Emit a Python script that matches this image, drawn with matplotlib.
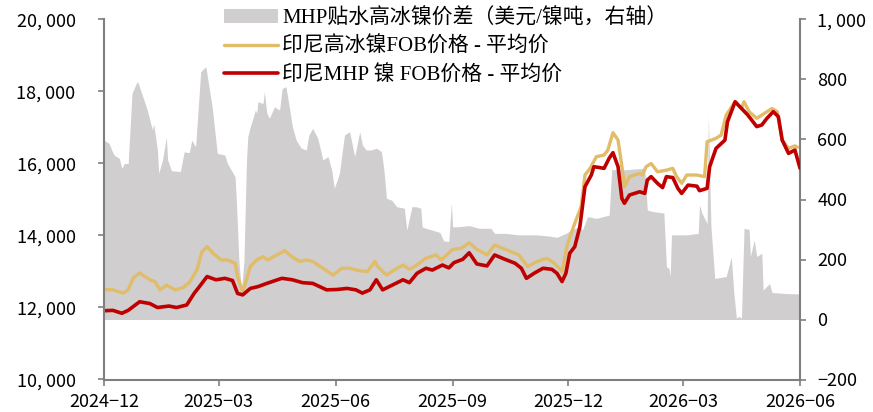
import pandas as pd
import matplotlib
matplotlib.use("Agg")
from matplotlib import pyplot as plt
import matplotlib.dates as mdates
from matplotlib.ticker import FuncFormatter, MultipleLocator
from matplotlib.font_manager import FontProperties

# 高冰镍FOB价格 - 平均价（左轴）
hin_dates = ["2024-12-01", "2024-12-08", "2024-12-16", "2024-12-20", "2024-12-24", "2024-12-29",
             "2025-01-06", "2025-01-10", "2025-01-14", "2025-01-19", "2025-01-26", "2025-02-01",
             "2025-02-06", "2025-02-12", "2025-02-16", "2025-02-20", "2025-02-25", "2025-03-03",
             "2025-03-08", "2025-03-14", "2025-03-16", "2025-03-20", "2025-03-23", "2025-03-26",
             "2025-03-31", "2025-04-05", "2025-04-09", "2025-04-13", "2025-04-18", "2025-04-22",
             "2025-04-28", "2025-05-04", "2025-05-09", "2025-05-14", "2025-05-22", "2025-05-30",
             "2025-06-06", "2025-06-12", "2025-06-20", "2025-06-26", "2025-07-02", "2025-07-04",
             "2025-07-11", "2025-07-17", "2025-07-24", "2025-07-29", "2025-08-04", "2025-08-11",
             "2025-08-19", "2025-08-23", "2025-08-29", "2025-09-01", "2025-09-08", "2025-09-14",
             "2025-09-20", "2025-09-28", "2025-10-04", "2025-10-10", "2025-10-17", "2025-10-23",
             "2025-10-30", "2025-11-06", "2025-11-14", "2025-11-20", "2025-11-26", "2025-11-30",
             "2025-12-06", "2025-12-11", "2025-12-14", "2025-12-18", "2025-12-23", "2025-12-29",
             "2026-01-01", "2026-01-05", "2026-01-09", "2026-01-13", "2026-01-14", "2026-01-18",
             "2026-01-26", "2026-01-28", "2026-01-31", "2026-02-04", "2026-02-09", "2026-02-16",
             "2026-02-21", "2026-02-24", "2026-02-28", "2026-03-04", "2026-03-12", "2026-03-18",
             "2026-03-20", "2026-03-27", "2026-03-31", "2026-04-04", "2026-04-11", "2026-04-16",
             "2026-04-18", "2026-04-22", "2026-04-28", "2026-05-02", "2026-05-10", "2026-05-14",
             "2026-05-18", "2026-05-23", "2026-05-28", "2026-05-30"]
hin_price = [12500, 12490, 12400, 12490, 12820, 12960,
             12770, 12720, 12490, 12620, 12490, 12550,
             12690, 13040, 13550, 13690, 13500, 13320,
             13320, 13230, 12860, 12440, 12770, 13140,
             13320, 13410, 13320, 13410, 13500, 13580,
             13400, 13280, 13320, 13280, 13090, 12900,
             13090, 13090, 13020, 13000, 13280, 13140,
             12900, 13040, 13180, 13060, 13180, 13370,
             13460, 13320, 13520, 13615, 13645, 13800,
             13615, 13460, 13735, 13645, 13550, 13460,
             13135, 13275, 13365, 13230, 13000, 13735,
             14340, 14800, 15680, 15865, 16190, 16235,
             16375, 16855, 16650, 15680, 15355, 15635,
             15725, 15680, 15910, 16000, 15770, 15815,
             15865, 15635, 15450, 15680, 15680, 15635,
             16605, 16700, 16790, 17345, 17715, 17530,
             17715, 17440, 17255, 17345, 17530, 17440,
             16650, 16420, 16490, 16450]

# MHP镍FOB价格 - 平均价（左轴）
mhp_dates = ["2024-12-01", "2024-12-08", "2024-12-15", "2024-12-20", "2024-12-29", "2025-01-06",
             "2025-01-12", "2025-01-21", "2025-01-27", "2025-02-04", "2025-02-10", "2025-02-14",
             "2025-02-20", "2025-02-27", "2025-03-06", "2025-03-12", "2025-03-16", "2025-03-20",
             "2025-03-26", "2025-04-01", "2025-04-08", "2025-04-18", "2025-04-20", "2025-04-28",
             "2025-05-06", "2025-05-14", "2025-05-25", "2025-06-02", "2025-06-10", "2025-06-17",
             "2025-06-22", "2025-06-28", "2025-07-03", "2025-07-08", "2025-07-16", "2025-07-24",
             "2025-07-29", "2025-08-04", "2025-08-11", "2025-08-16", "2025-08-24", "2025-08-29",
             "2025-09-02", "2025-09-09", "2025-09-14", "2025-09-20", "2025-09-28", "2025-10-04",
             "2025-10-12", "2025-10-20", "2025-10-25", "2025-10-29", "2025-11-04", "2025-11-11",
             "2025-11-18", "2025-11-22", "2025-11-26", "2025-11-29", "2025-12-02", "2025-12-06",
             "2025-12-10", "2025-12-14", "2025-12-19", "2025-12-21", "2025-12-25", "2025-12-29",
             "2026-01-02", "2026-01-05", "2026-01-09", "2026-01-12", "2026-01-14", "2026-01-18",
             "2026-01-26", "2026-01-30", "2026-02-01", "2026-02-04", "2026-02-09", "2026-02-13",
             "2026-02-16", "2026-02-21", "2026-02-25", "2026-02-28", "2026-03-05", "2026-03-12",
             "2026-03-14", "2026-03-20", "2026-03-22", "2026-03-27", "2026-04-03", "2026-04-05",
             "2026-04-11", "2026-04-16", "2026-04-21", "2026-04-28", "2026-05-02", "2026-05-06",
             "2026-05-11", "2026-05-15", "2026-05-18", "2026-05-23", "2026-05-28", "2026-06-01"]
mhp_price = [11910, 11920, 11840, 11920, 12160, 12110,
             12000, 12040, 12000, 12070, 12400, 12580,
             12860, 12770, 12810, 12750, 12390, 12350,
             12530, 12580, 12670, 12790, 12810, 12770,
             12690, 12670, 12490, 12500, 12530, 12490,
             12400, 12490, 12770, 12490, 12630, 12770,
             12690, 12950, 13090, 13040, 13180, 13100,
             13245, 13340, 13520, 13210, 13155, 13460,
             13340, 13230, 13090, 12810, 12950, 13090,
             13060, 12950, 12720, 12950, 13505, 13690,
             14245, 15355, 15680, 15910, 15890, 15865,
             16145, 16300, 15910, 15030, 14895, 15125,
             15215, 15170, 15540, 15635, 15450, 15330,
             15635, 15610, 15310, 15170, 15400, 15370,
             15245, 15310, 15910, 16420, 16650, 17160,
             17715, 17530, 17345, 17025, 17070, 17255,
             17440, 17300, 16650, 16280, 16375, 15870]

# MHP贴水高冰镍价差（美元/镍吨，右轴）
gap_dates = ["2024-12-01", "2024-12-05", "2024-12-07", "2024-12-09", "2024-12-13", "2024-12-15",
             "2024-12-17", "2024-12-20", "2024-12-23", "2024-12-27", "2024-12-28", "2025-01-04",
             "2025-01-08", "2025-01-09", "2025-01-12", "2025-01-13", "2025-01-16", "2025-01-19",
             "2025-01-20", "2025-01-23", "2025-01-30", "2025-02-02", "2025-02-06", "2025-02-08",
             "2025-02-11", "2025-02-15", "2025-02-19", "2025-02-24", "2025-02-28", "2025-03-06",
             "2025-03-08", "2025-03-14", "2025-03-15", "2025-03-17", "2025-03-19", "2025-03-21",
             "2025-03-23", "2025-03-24", "2025-03-26", "2025-03-30", "2025-03-31", "2025-04-01",
             "2025-04-05", "2025-04-06", "2025-04-08", "2025-04-10", "2025-04-14", "2025-04-18",
             "2025-04-20", "2025-04-23", "2025-04-26", "2025-04-28", "2025-05-01", "2025-05-05",
             "2025-05-09", "2025-05-11", "2025-05-14", "2025-05-18", "2025-05-22", "2025-05-26",
             "2025-05-29", "2025-05-31", "2025-06-04", "2025-06-08", "2025-06-12", "2025-06-16",
             "2025-06-20", "2025-06-22", "2025-06-25", "2025-06-29", "2025-07-03", "2025-07-07",
             "2025-07-09", "2025-07-11", "2025-07-15", "2025-07-19", "2025-07-25", "2025-07-27",
             "2025-07-31", "2025-08-03", "2025-08-07", "2025-08-08", "2025-08-11", "2025-08-16",
             "2025-08-22", "2025-08-25", "2025-08-29", "2025-08-31", "2025-09-01", "2025-09-05",
             "2025-09-14", "2025-09-22", "2025-10-01", "2025-10-04", "2025-10-13", "2025-10-23",
             "2025-11-06", "2025-11-16", "2025-11-22", "2025-11-29", "2025-12-03", "2025-12-10",
             "2025-12-12", "2025-12-16", "2025-12-23", "2026-01-02", "2026-01-04", "2026-01-11",
             "2026-01-23", "2026-01-30", "2026-02-01", "2026-02-05", "2026-02-14", "2026-02-16",
             "2026-02-18", "2026-02-19", "2026-02-20", "2026-03-04", "2026-03-13", "2026-03-14",
             "2026-03-16", "2026-03-20", "2026-03-21", "2026-03-23", "2026-03-26", "2026-04-04",
             "2026-04-08", "2026-04-10", "2026-04-12", "2026-04-14", "2026-04-16", "2026-04-18",
             "2026-04-22", "2026-04-23", "2026-04-26", "2026-04-28", "2026-05-02", "2026-05-03",
             "2026-05-08", "2026-05-10", "2026-05-19", "2026-06-01"]
gap_value = [598, 587, 565, 548, 537, 504,
             520, 520, 754, 793, 787, 698,
             632, 652, 565, 487, 532, 609,
             532, 496, 493, 559, 556, 598,
             576, 826, 843, 709, 554, 548,
             520, 476, 398, 198, 95, 198,
             532, 609, 643, 698, 687, 726,
             720, 760, 687, 671, 709, 698,
             770, 776, 698, 643, 598, 571,
             565, 615, 637, 604, 532, 543,
             498, 437, 487, 615, 626, 543,
             626, 582, 565, 565, 571, 560,
             498, 404, 398, 376, 371, 298,
             376, 376, 371, 309, 304, 298,
             290, 262, 260, 388, 309, 309,
             313, 304, 304, 287, 287, 282,
             282, 278, 274, 287, 298, 309,
             298, 343, 337, 348, 500, 498,
             502, 504, 365, 360, 355, 176,
             170, 143, 282, 282, 287, 382,
             354, 320, 680, 309, 137, 143,
             209, 87, 5, 10, 5, 304,
             300, 210, 265, 210, 221, 98,
             120, 90, 87, 85]

gray = "#D0CECF"
yellow = "#E1BC69"
red = "#C00000"
spine_c = "#7F7F7F"

plt.rcParams['font.family'] = ['Noto Sans CJK SC', 'DejaVu Sans']


def fmt_num(v, pos):
    s = f"{v:,.0f}".replace(",", ", ")
    return s.replace("-", "\u2212")


fig = plt.figure(figsize=(8.73, 4.12), dpi=100)
ax = fig.add_axes([104 / 873, 1 - 379.5 / 412, 696 / 873, 360 / 412])
ax2 = ax.twinx()

area = ax2.fill_between(pd.to_datetime(gap_dates), 0, gap_value, color=gray, lw=0,
                        label="MHP贴水高冰镍价差（美元/镍吨，右轴）")
l1, = ax.plot(pd.to_datetime(hin_dates), hin_price, color=yellow, lw=2.4,
              solid_capstyle="round", label="印尼高冰镍FOB价格 - 平均价")
l2, = ax.plot(pd.to_datetime(mhp_dates), mhp_price, color=red, lw=2.6,
              solid_capstyle="round", label="印尼MHP 镍 FOB价格 - 平均价")

ax.set_zorder(ax2.get_zorder() + 1)
ax.patch.set_visible(False)

ax.set_xlim(pd.Timestamp("2024-12-01"), pd.Timestamp("2026-06-01"))
ax.set_ylim(10000, 20000)
ax2.set_ylim(-200, 1000)
ax.yaxis.set_major_locator(MultipleLocator(2000))
ax2.yaxis.set_major_locator(MultipleLocator(200))
ax.yaxis.set_major_formatter(FuncFormatter(fmt_num))
ax2.yaxis.set_major_formatter(FuncFormatter(fmt_num))
ax.xaxis.set_major_locator(mdates.MonthLocator(bymonth=[3, 6, 9, 12]))
ax.xaxis.set_major_formatter(mdates.DateFormatter("%Y\u2212%m"))

for sp in ["top", "right"]:
    ax.spines[sp].set_visible(False)
for sp in ["top", "left", "bottom"]:
    ax2.spines[sp].set_visible(False)
for sp in [ax.spines["left"], ax.spines["bottom"], ax2.spines["right"]]:
    sp.set_color(spine_c)
    sp.set_linewidth(1.5)

ax.tick_params(axis="y", length=4.5, width=1.2, color=spine_c, labelsize=13, pad=16)
ax.tick_params(axis="x", length=4.5, width=1.2, color=spine_c, labelsize=13, pad=5)
ax2.tick_params(axis="y", length=4.5, width=1.2, color=spine_c, labelsize=13, pad=8)

leg_font = FontProperties(family=['Liberation Serif', 'Noto Sans CJK SC'], size=15)
ax.legend([area, l1, l2], [area.get_label(), l1.get_label(), l2.get_label()],
          loc="upper left", bbox_to_anchor=(222 / 873, 0.985), bbox_transform=fig.transFigure,
          frameon=False, prop=leg_font, borderpad=0.1, borderaxespad=0,
          handlelength=2.6, handletextpad=0.2, labelspacing=0.4)

fig.savefig("out.png", dpi=100)
